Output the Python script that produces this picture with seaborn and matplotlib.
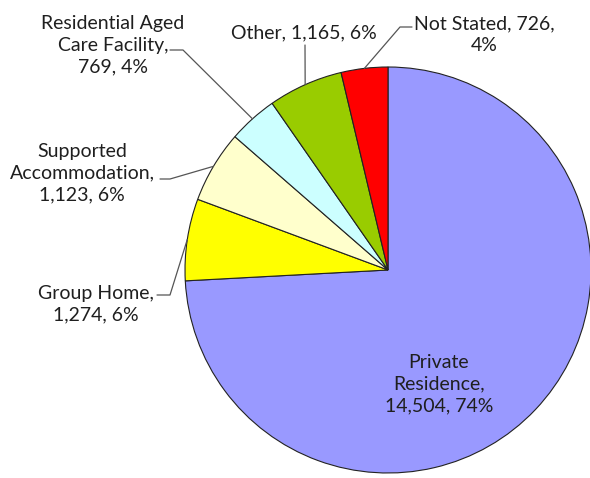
import numpy as np
import matplotlib
matplotlib.use("Agg")
import matplotlib.pyplot as plt
import seaborn as sns

categories = ["Private\nResidence", "Group Home", "Supported\nAccommodation",
              "Residential Aged\nCare Facility", "Other", "Not Stated"]
counts = [14504, 1274, 1123, 769, 1165, 726]
percents = [74, 6, 6, 4, 6, 4]
colors = ["#9999FF", "#FFFF00", "#FFFFCC", "#CCFFFF", "#99CC00", "#FF0000"]

sns.set_theme(style="white")
plt.rcParams["font.family"] = ["Lato", "DejaVu Sans"]

W, H = 590, 478
fig = plt.figure(figsize=(W / 100, H / 100), dpi=100)
fig.patch.set_facecolor("white")

# pie centre and radius in pixels
cx, cy, R = 388, 270, 203
ax = fig.add_axes([(cx - R) / W, (H - cy - R) / H, 2 * R / W, 2 * R / H])

wedges, _ = ax.pie(counts, colors=colors, startangle=90, counterclock=False,
                   radius=1, wedgeprops=dict(edgecolor="#222222", linewidth=0.8))
ax.set_xlim(-1, 1)
ax.set_ylim(-1, 1)
ax.set_aspect("equal")
ax.axis("off")


def px(x, y):
    return (x - cx) / R, (cy - y) / R


def edge_point(w):
    ang = np.deg2rad((w.theta1 + w.theta2) / 2)
    return np.cos(ang), np.sin(ang)


fs = 14
txt_kw = dict(ha="center", va="center", fontsize=fs, color="#1f1f1f",
              linespacing=1.35, clip_on=False)

# text centres, line breaks and leader line start points (pixels)
layout = [
    dict(text=(439, 384), lead=None, breaks=(",\n", ", ")),
    dict(text=(96, 304), lead=[(157, 295), (170, 295)], breaks=(",\n", ", ")),
    dict(text=(82, 173), lead=[(160, 179), (170, 179)], breaks=(",\n", ", ")),
    dict(text=(113, 45), lead=[(170, 50), (183, 50)], breaks=(",\n", ", ")),
    dict(text=(304, 33), lead=[(305, 45)], breaks=(", ", ", ")),
    dict(text=(484, 35), lead=[(412, 27), (400, 27)], breaks=(", ", ",\n")),
]

for w, name, v, pct, lay in zip(wedges, categories, counts, percents, layout):
    b1, b2 = lay["breaks"]
    lab = f"{name}{b1}{v:,}{b2}{pct}%"
    tx, ty = px(*lay["text"])
    ax.text(tx, ty, lab, **txt_kw)
    if lay["lead"]:
        pts = [px(*p) for p in lay["lead"]]
        ex, ey = edge_point(w)
        xs = [p[0] for p in pts] + [ex]
        ys = [p[1] for p in pts] + [ey]
        ax.plot(xs, ys, color="#555555", lw=0.9, clip_on=False)

fig.savefig("out.png", dpi=100, facecolor="white")
